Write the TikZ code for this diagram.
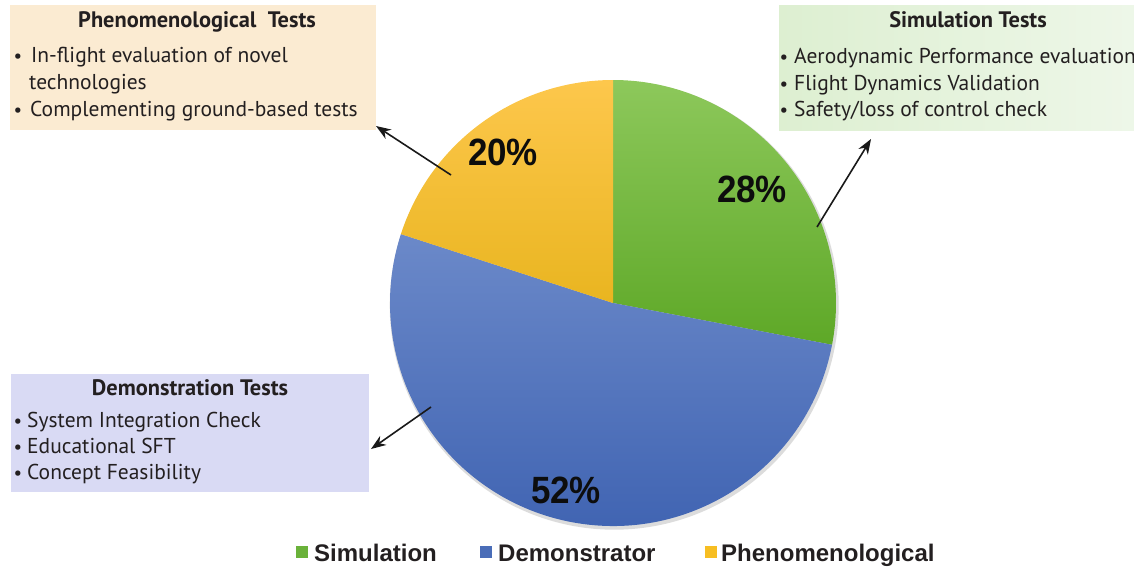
\documentclass[tikz,border=0pt]{standalone}
\usepackage{fontspec}
\setmainfont{PT Sans}
\newfontfamily\legfont{Liberation Sans}
\usetikzlibrary{arrows.meta}
\definecolor{phenfill}{HTML}{FBEBD2}
\definecolor{simfillL}{HTML}{DDEFD1}
\definecolor{simfillR}{HTML}{EEF7E9}
\definecolor{demofill}{HTML}{D9DAF4}
\definecolor{greenT}{HTML}{8DC85B}
\definecolor{greenB}{HTML}{5EA827}
\definecolor{blueT}{HTML}{6B89C9}
\definecolor{blueB}{HTML}{3E62B1}
\definecolor{yelT}{HTML}{FDC74C}
\definecolor{yelB}{HTML}{E9B520}
\definecolor{txt}{HTML}{231F20}
\definecolor{legG}{HTML}{6AB23A}
\definecolor{legB}{HTML}{4A6DB8}
\definecolor{legY}{HTML}{F7BE22}
\tikzset{
  boxst/.style={draw=none, inner sep=0pt},
  ttl/.style={anchor=base, font=\fontsize{22.4}{24}\selectfont\bfseries, text=txt, inner sep=0pt},
  bul/.style={anchor=base west, font=\fontsize{21.5}{24}\selectfont, text=txt, inner sep=0pt},
  dot/.style={anchor=base, font=\fontsize{19}{20}\selectfont, text=txt, inner sep=0pt},
  pct/.style={font=\legfont\fontsize{38}{40}\selectfont\bfseries, text=black!95, xscale=0.92, inner sep=0pt},
  legsq/.style={minimum size=12pt, inner sep=0pt},
  legtxt/.style={anchor=base west, font=\legfont\fontsize{24}{26}\selectfont\bfseries, text=txt, inner sep=0pt},
  arr/.style={line width=1.6pt, -{Stealth[length=15pt,width=11pt]}, black!90}
}
\begin{document}
\begin{tikzpicture}[x=1pt,y=-1pt]
\useasboundingbox (0,0) rectangle (1134,568);
\clip (0,0) rectangle (1134,568);

% boxes
\node[boxst, fill=phenfill, minimum width=366pt, minimum height=125pt] (phenbox) at (193,67.5) {};
\node[boxst, left color=simfillL, right color=simfillR, minimum width=365pt, minimum height=125pt] (simbox) at (961.5,67.5) {};
\node[boxst, fill=demofill, minimum width=358pt, minimum height=118pt] (demobox) at (190,433) {};

% phenomenological text
\node[ttl] (phent) at (197,27) {Phenomenological\ \ Tests};
\node[dot] (phd1) at (18,62) {•};
\node[bul] (ph1) at (31,62) {In-flight evaluation of novel};
\node[bul] (ph2) at (29,89) {technologies};
\node[dot] (phd3) at (18,116) {•};
\node[bul] (ph3) at (30,116) {Complementing ground-based tests};

% simulation text
\node[ttl] (simt) at (968,27) {Simulation Tests};
\node[dot] (sd1) at (784,63) {•};
\node[bul] (s1) at (794,63) {Aerodynamic Performance evaluation};
\node[dot] (sd2) at (784,90) {•};
\node[bul] (s2) at (794,90) {Flight Dynamics Validation};
\node[dot] (sd3) at (784,116) {•};
\node[bul] (s3) at (794,116) {Safety/loss of control check};

% demonstration text
\node[ttl] (demot) at (190,395) {Demonstration Tests};
\node[dot] (dd1) at (18,427) {•};
\node[bul] (d1) at (27,427) {System Integration Check};
\node[dot] (dd2) at (18,453) {•};
\node[bul] (d2) at (27,453) {Educational SFT};
\node[dot] (dd3) at (18,479) {•};
\node[bul] (d3) at (27,479) {Concept Feasibility};

% pie
\begin{scope}[shift={(613,303)},y=1pt]
  \coordinate (pieC) at (0,0);
  \fill[black!30, opacity=0.45] (1.2,-2.2) circle (224.5);
  \shade[top color=greenT, bottom color=greenB] (0,0) -- (90:223) arc[start angle=90,end angle=-10.8,radius=223] -- cycle;
  \shade[top color=blueT, bottom color=blueB] (0,0) -- (-10.8:223) arc[start angle=-10.8,end angle=-198,radius=223] -- cycle;
  \shade[top color=yelT, bottom color=yelB] (0,0) -- (162:223) arc[start angle=162,end angle=90,radius=223] -- cycle;
\end{scope}

% percentages
\node[pct] (p20) at (503,152) {20\%};
\node[pct] (p28) at (752,189) {28\%};
\node[pct] (p52) at (566,490) {52\%};

% arrows
\coordinate (a1s) at (451,175);
\coordinate (a1e) at (376,126);
\coordinate (a2s) at (817,227);
\coordinate (a2e) at (871,139);
\coordinate (a3s) at (431,407);
\coordinate (a3e) at (371,449);
\draw[arr] (a1s) -- (a1e);
\draw[arr] (a2s) -- (a2e);
\draw[arr] (a3s) -- (a3e);

% legend
\node[legsq, fill=legG] (lg1) at (302,552) {};
\node[legtxt] (lt1) at (314,561) {Simulation};
\node[legsq, fill=legB] (lg2) at (486,552) {};
\node[legtxt] (lt2) at (498,561) {Demonstrator};
\node[legsq, fill=legY] (lg3) at (711,552) {};
\node[legtxt] (lt3) at (721,561) {Phenomenological};
\end{tikzpicture}
\end{document}
